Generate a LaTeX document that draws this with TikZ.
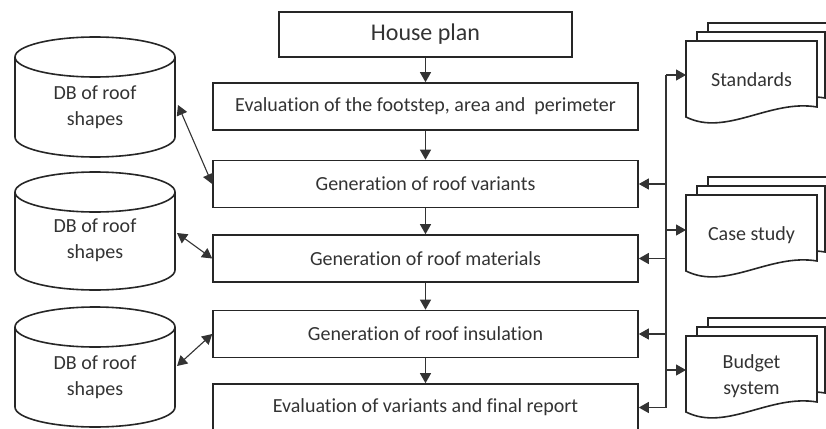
\documentclass[tikz,border=0pt]{standalone}
\usepackage{fontspec}
\setmainfont{Carlito}[Ligatures=NoCommon]
\usetikzlibrary{arrows.meta,calc}
\newcommand\docshape[3]{%
  \path[docline] (#1,-#2) -- (#1,-#2-76) .. controls +(40,-20) and +(-47,8) .. (#1+#3,-#2-66) -- (#1+#3,-#2) -- cycle;}
\newcommand\docstack[3]{%
  \pgfmathsetmacro\dsLa{#1+22}\pgfmathsetmacro\dsTa{#2-18}%
  \pgfmathsetmacro\dsLb{#1+11}\pgfmathsetmacro\dsTb{#2-9}%
  \pgfmathsetmacro\dsW{#3-3}%
  \docshape{\dsLa}{\dsTa}{\dsW}\docshape{\dsLb}{\dsTb}{\dsW}\docshape{#1}{#2}{#3}}
\newcommand\dbcyl[2]{%
  \path[cylline] (15,-#1) -- (15,-#2) arc[start angle=180,end angle=360,x radius=80,y radius=20] -- (175,-#1);
  \path[cylline] (95,-#1) ellipse[x radius=80,y radius=20];}
\begin{document}
\begin{tikzpicture}[x=1pt,y=1pt,
  box/.style={draw=black!85, line width=1.6pt, minimum width=425pt, minimum height=47pt, inner sep=0pt,
    font=\fontsize{20}{24}\selectfont, text=black!80},
  tip/.tip={Triangle[length=10pt,width=11pt]},
  conn/.style={draw=black!80, line width=1.1pt, -tip},
  biconn/.style={draw=black!80, line width=1.1pt, tip-tip},
  bus/.style={draw=black!80, line width=1.1pt},
  cylline/.style={draw=black!85, line width=1.6pt, fill=white},
  docline/.style={draw=black!85, line width=1.6pt, fill=white},
  doctext/.style={align=center, font=\fontsize{20}{26}\selectfont, text=black!80},
  dbtext/.style={align=center, font=\fontsize{20}{26}\selectfont, text=black!80}]
\useasboundingbox (0,0) rectangle (826,-428);

% main process boxes
\node[box, minimum width=293pt, minimum height=45pt, font=\fontsize{24}{28}\selectfont] (hp) at (425.5,-34.5) {House plan};
\node[box] (ev) at (425.5,-106.5) {Evaluation of the footstep, area and\ \ perimeter};
\node[box] (va) at (425.5,-184) {Generation of roof variants};
\node[box] (ma) at (425.5,-258.5) {Generation of roof materials};
\node[box] (ins) at (425.5,-334) {Generation of roof insulation};
\node[box] (fr) at (425.5,-407.5) {Evaluation of variants and final report};

\draw[conn] (hp) -- (ev);
\draw[conn] (ev) -- (va);
\draw[conn] (va) -- (ma);
\draw[conn] (ma) -- (ins);
\draw[conn] (ins) -- (fr);

% databases
\dbcyl{57}{137}
\dbcyl{192}{270}
\dbcyl{327}{407}
\node[dbtext] (db1) at (95,-107.5) {DB of roof\\shapes};
\node[dbtext] (db2) at (95,-240) {DB of roof\\shapes};
\node[dbtext] (db3) at (95,-377.5) {DB of roof\\shapes};
\coordinate (c1) at (178,-105);
\coordinate (c2) at (177,-233);
\coordinate (c3) at (177,-366);
\draw[biconn] (c1) -- (va.west);
\draw[biconn] (c2) -- (ma.west);
\draw[biconn] (c3) -- (ins.west);

% documents
\docstack{686}{41}{131}
\docstack{686}{195}{131}
\docstack{686}{336}{131}
\node[doctext] (std) at (751.5,-80) {Standards};
\node[doctext] (cs) at (751.5,-235) {Case study};
\node[doctext] (bud) at (751.5,-376) {Budget\\system};
\coordinate (sa) at (686,-75);
\coordinate (ca) at (686,-230);
\coordinate (ba) at (686,-370);

% bus
\coordinate (bt) at (666,-75);
\coordinate (bb) at (666,-408);
\draw[bus] (bt) -- (bb);
\draw[conn] (bt) -- (sa);
\draw[conn] (bt |- ca) -- (ca);
\draw[conn] (bt |- ba) -- (ba);
\draw[conn] (bt |- va.east) -- (va.east);
\draw[conn] (bt |- ma.east) -- (ma.east);
\draw[conn] (bt |- ins.east) -- (ins.east);
\draw[conn] (bt |- fr.east) -- (fr.east);
\end{tikzpicture}
\end{document}
